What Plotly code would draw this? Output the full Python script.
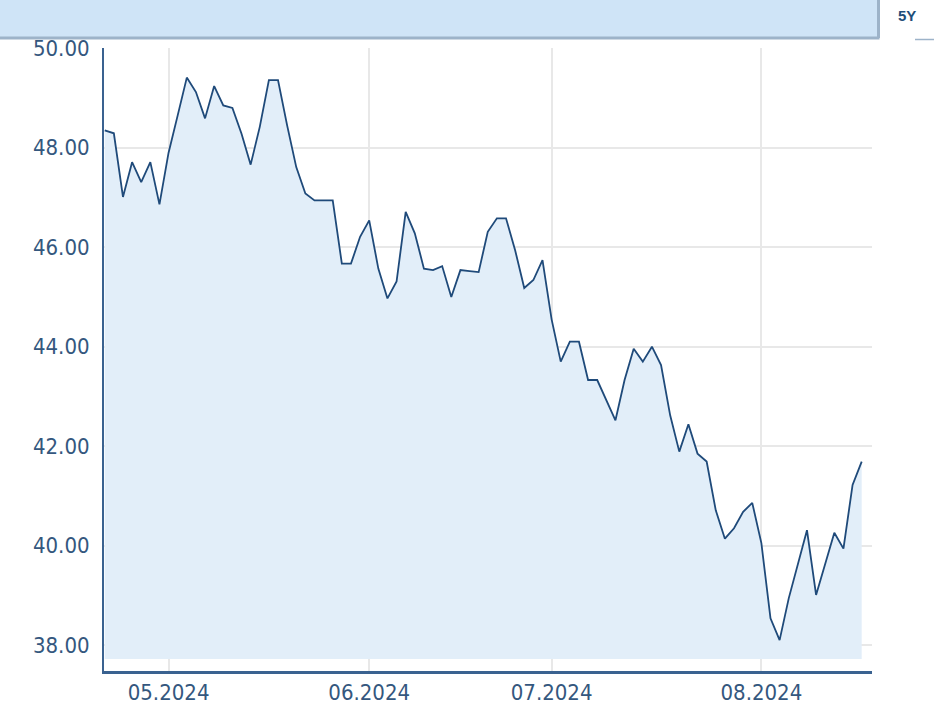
import pandas as pd
import plotly.graph_objects as go

# ---- data -------------------------------------------------------------
HOLIDAYS = ["2024-05-01"]
dates = [d.strftime("%Y-%m-%d") for d in pd.bdate_range("2024-04-22", "2024-08-16")
         if d.strftime("%Y-%m-%d") not in HOLIDAYS]

prices = [
    48.35, 48.29, 47.01, 47.71, 47.31, 47.71, 46.86, 47.90, 48.65, 49.41,
    49.12, 48.59, 49.24, 48.85, 48.80, 48.28, 47.66, 48.42, 49.36, 49.36,
    48.45, 47.61, 47.08, 46.94, 46.94, 46.94, 45.67, 45.67, 46.21, 46.54,
    45.57, 44.97, 45.31, 46.71, 46.28, 45.57, 45.54, 45.62, 45.00, 45.54,
    45.52, 45.50, 46.31, 46.58, 46.58, 45.94, 45.18, 45.34, 45.74, 44.55,
    43.70, 44.10, 44.10, 43.33, 43.33, 42.93, 42.52, 43.33, 43.96, 43.70,
    44.00, 43.63, 42.62, 41.89, 42.44, 41.85, 41.69, 40.71, 40.14, 40.35,
    40.68, 40.86, 40.05, 38.54, 38.10, 38.94, 39.62, 40.31, 39.01, 39.63,
    40.26, 39.94, 41.22, 41.69,
]
FILL_BASE = 37.72

x_tick_vals = ["2024-05-02", "2024-06-03", "2024-07-01", "2024-08-01"]
x_tick_text = ["05.2024", "06.2024", "07.2024", "08.2024"]
y_tick_vals = [38, 40, 42, 44, 46, 48, 50]

# ---- styles -----------------------------------------------------------
TEXT = "#34577e"
LINE = "#1f4a7a"
FILL = "#e2eef9"
GRID = "#e8e8e8"
AXIS = "#3a6290"
FONT = "DejaVu Sans Condensed, DejaVu Sans, sans-serif"

fig = go.Figure()
fig.add_trace(go.Scatter(x=dates, y=[FILL_BASE] * len(dates), mode="lines",
                         line=dict(width=0, color=FILL), hoverinfo="skip",
                         showlegend=False))
fig.add_trace(go.Scatter(x=dates, y=prices, mode="lines", fill="tonexty",
                         fillcolor=FILL, line=dict(color=LINE, width=1.8),
                         showlegend=False))

fig.update_xaxes(
    type="category", range=[-0.08, 84.13], automargin=False,
    tickmode="array", tickvals=x_tick_vals, ticktext=x_tick_text,
    showgrid=True, gridcolor=GRID, gridwidth=2,
    showline=True, linecolor=AXIS, linewidth=3,
    ticks="", tickfont=dict(family=FONT, size=22, color=TEXT),
    zeroline=False, fixedrange=True,
)
fig.update_yaxes(
    range=[37.48, 50.005], tickmode="array", tickvals=y_tick_vals,
    tickformat=".2f", automargin=False,
    showgrid=True, gridcolor=GRID, gridwidth=2,
    showline=True, linecolor=AXIS, linewidth=2,
    ticks="", ticklabelstandoff=8,
    tickfont=dict(family=FONT, size=22, color=TEXT),
    zeroline=False, fixedrange=True,
)

# header bar geometry (paper coords relative to plot area 104..872 x 48..671)
L, R, T, B = 104, 872, 48, 671
W, H = R - L, B - T
px = lambda x: (x - L) / W
py = lambda y: (B - y) / H

shapes = [
    dict(type="rect", xref="paper", yref="paper", x0=px(0), x1=px(878),
         y0=py(38), y1=py(0), fillcolor="#cfe4f7", line=dict(width=0), layer="above"),
    dict(type="line", xref="paper", yref="paper", x0=px(0), x1=px(879.5),
         y0=py(38), y1=py(38), line=dict(color="#9db3c9", width=3)),
    dict(type="line", xref="paper", yref="paper", x0=px(878.5), x1=px(878.5),
         y0=py(0), y1=py(38), line=dict(color="#9db3c9", width=3)),
    dict(type="line", xref="paper", yref="paper", x0=px(915), x1=px(934),
         y0=py(39.5), y1=py(39.5), line=dict(color="#9db3c9", width=1.5)),
]

fig.update_layout(
    width=934, height=704,
    margin=dict(l=L, r=934 - R, t=T, b=704 - B),
    paper_bgcolor="white", plot_bgcolor="white",
    shapes=shapes,
    annotations=[dict(text="<b>5Y</b>", xref="paper", yref="paper",
                      x=px(906.5), y=py(16), xanchor="center", yanchor="middle",
                      showarrow=False,
                      font=dict(family="Liberation Sans, Arial, sans-serif",
                                size=15, color="#1f4e79"))],
    showlegend=False,
)

fig.write_html("out.html")
